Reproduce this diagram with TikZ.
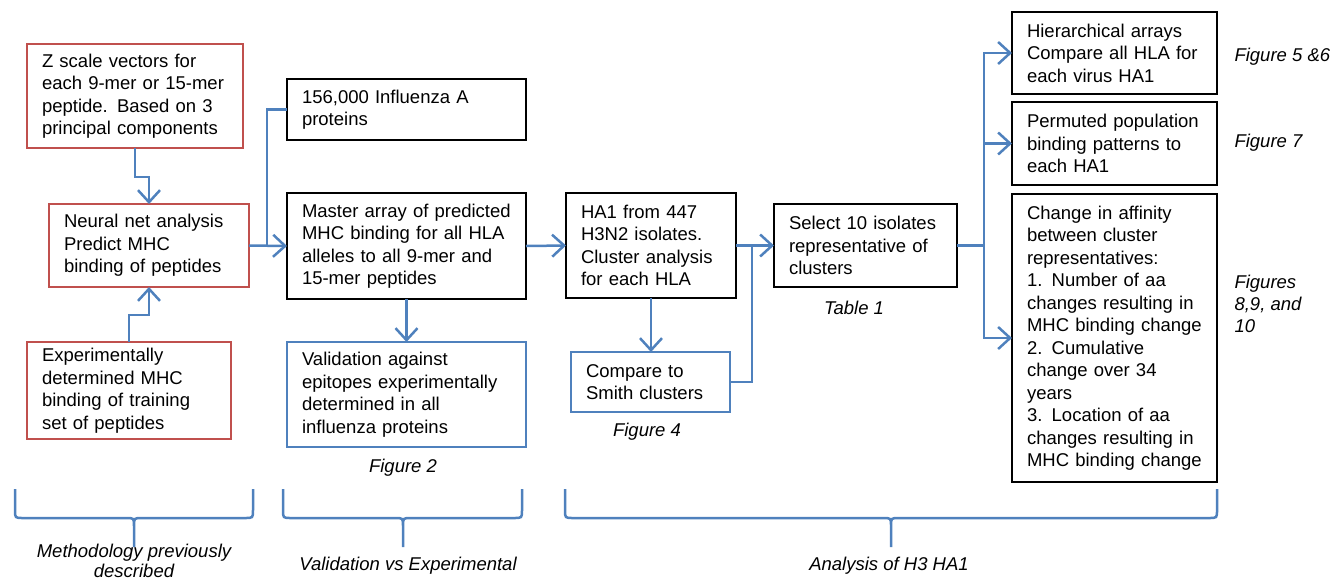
\documentclass[tikz,border=0pt]{standalone}
\usepackage{fontspec}
\setmainfont{Liberation Sans}
\usetikzlibrary{arrows.meta}
\definecolor{boxred}{RGB}{192,80,77}
\definecolor{linkblue}{RGB}{79,129,189}
\begin{document}
\begin{tikzpicture}[x=1pt,y=-1pt,>={Straight Barb[length=12pt,width=22pt,line width=2.5pt]},
    font=\fontsize{18.5}{22.5}\selectfont,
    box/.style={draw,line width=2.8pt,align=left,inner xsep=15pt,inner ysep=0pt,outer sep=0pt},
    redbox/.style={box,draw=boxred,line width=2pt},
    bluebox/.style={box,draw=linkblue,line width=2pt},
    link/.style={draw=linkblue,line width=2.5pt},
    note/.style={font=\fontsize{18.5}{20}\selectfont\itshape,align=center}]
    \useasboundingbox (0,0) rectangle (1339,582);
    % methodology
    \node[redbox,text width=186pt,minimum height=104pt] (zsc) at (135,96) {Z scale vectors for\\each 9-mer or 15-mer\\peptide. Based on 3\\principal components};
    \node[redbox,text width=170pt,minimum height=83pt] (nn) at (149,245.5) {Neural net analysis\\Predict MHC\\binding of peptides};
    \node[redbox,text width=174pt,minimum height=97pt] (exper) at (129,390.5) {Experimentally\\determined MHC\\binding of training\\set of peptides};
    % validation
    \node[box,text width=209pt,minimum height=61pt] (prot) at (406.5,109.5) {156,000 Influenza A\\proteins};
    \node[box,text width=209pt,minimum height=106pt] (master) at (406.5,246) {Master array of predicted\\MHC binding for all HLA\\alleles to all 9-mer and\\15-mer peptides};
    \node[bluebox,text width=209pt,minimum height=105pt] (valid) at (406.5,394.5) {Validation against\\epitopes experimentally\\determined in all\\influenza proteins};
    % analysis
    \node[box,text width=140pt,minimum height=105pt] (ha) at (651,245.5) {HA1 from 447\\H3N2 isolates.\\Cluster analysis\\for each HLA};
    \node[bluebox,text width=129pt,minimum height=60pt] (smith) at (650.5,382) {Compare to\\Smith clusters};
    \node[box,text width=153pt,minimum height=83pt] (select) at (865.5,245.5) {Select 10 isolates\\representative of\\clusters};
    \node[box,text width=175pt,minimum height=82pt] (hier) at (1114.5,53) {Hierarchical arrays\\Compare all HLA for\\each virus HA1};
    \node[box,text width=175pt,minimum height=83pt] (perm) at (1114.5,143.5) {Permuted population\\binding patterns to\\each HA1};
    \node[box,text width=175pt,minimum height=288pt] (change) at (1114.5,338) {Change in affinity\\between cluster\\representatives:\\1. Number of aa\\changes resulting in\\MHC binding change\\2. Cumulative\\change over 34\\years\\3. Location of aa\\changes resulting in\\MHC binding change};
    % connectors
    \draw[link,->] (zsc.south) -- ++(0,29) -| (nn.north);
    \draw[link,->] (exper.north) -- ++(0,-27) -| (nn.south);
    \coordinate (split) at (267,245.5);
    \draw[link,->] (nn.east) -- (master.west);
    \draw[link] (split) |- (prot.west);
    \draw[link,->] (master.south) -- (valid.north);
    \draw[link,->] (master.east) -- (ha.west);
    \draw[link,->] (ha.south) -- (ha.south |- smith.north);
    \coordinate (join) at (752,245.5);
    \draw[link,->] (ha.east) -- (select.west);
    \draw[link] (smith.east) -| (join);
    \coordinate (fork) at (984,245.5);
    \draw[link] (select.east) -- (fork);
    \foreach \n in {hier,perm,change}
        \draw[link,->] (fork) |- (\n.west);
    % figure references
    \node[note] (fig2) at (403,468) {Figure 2};
    \node[note] (fig4) at (647,432) {Figure 4};
    \node[note] (tab1) at (854,308) {Table 1};
    \node[note,anchor=west] (fig56) at (1231,57) {Figure 5 \&6};
    \node[note,anchor=west] (fig7) at (1231,143) {Figure 7};
    \node[note,anchor=west,align=left,font=\fontsize{18.5}{22}\selectfont\itshape] (fig810) at (1231,304) {Figures\\8,9, and\\10};
    % braces
    \foreach \l/\r/\t in {15/253/134,283/522/403,565/1217/891}
        \draw[link] (\l,489) -- (\l,510) .. controls (\l,518) .. (\l+8,518) -- (\t-8,518)
            .. controls (\t,518) .. (\t,526) -- (\t,547)
            (\t,526) .. controls (\t,518) .. (\t+8,518) -- (\r-8,518)
            .. controls (\r,518) .. (\r,510) -- (\r,489);
    \node[note] (meth) at (134,561) {Methodology previously\\described};
    \node[note] (valx) at (408,566) {Validation vs Experimental};
    \node[note] (anal) at (889,566) {Analysis of H3 HA1};
\end{tikzpicture}
\end{document}
